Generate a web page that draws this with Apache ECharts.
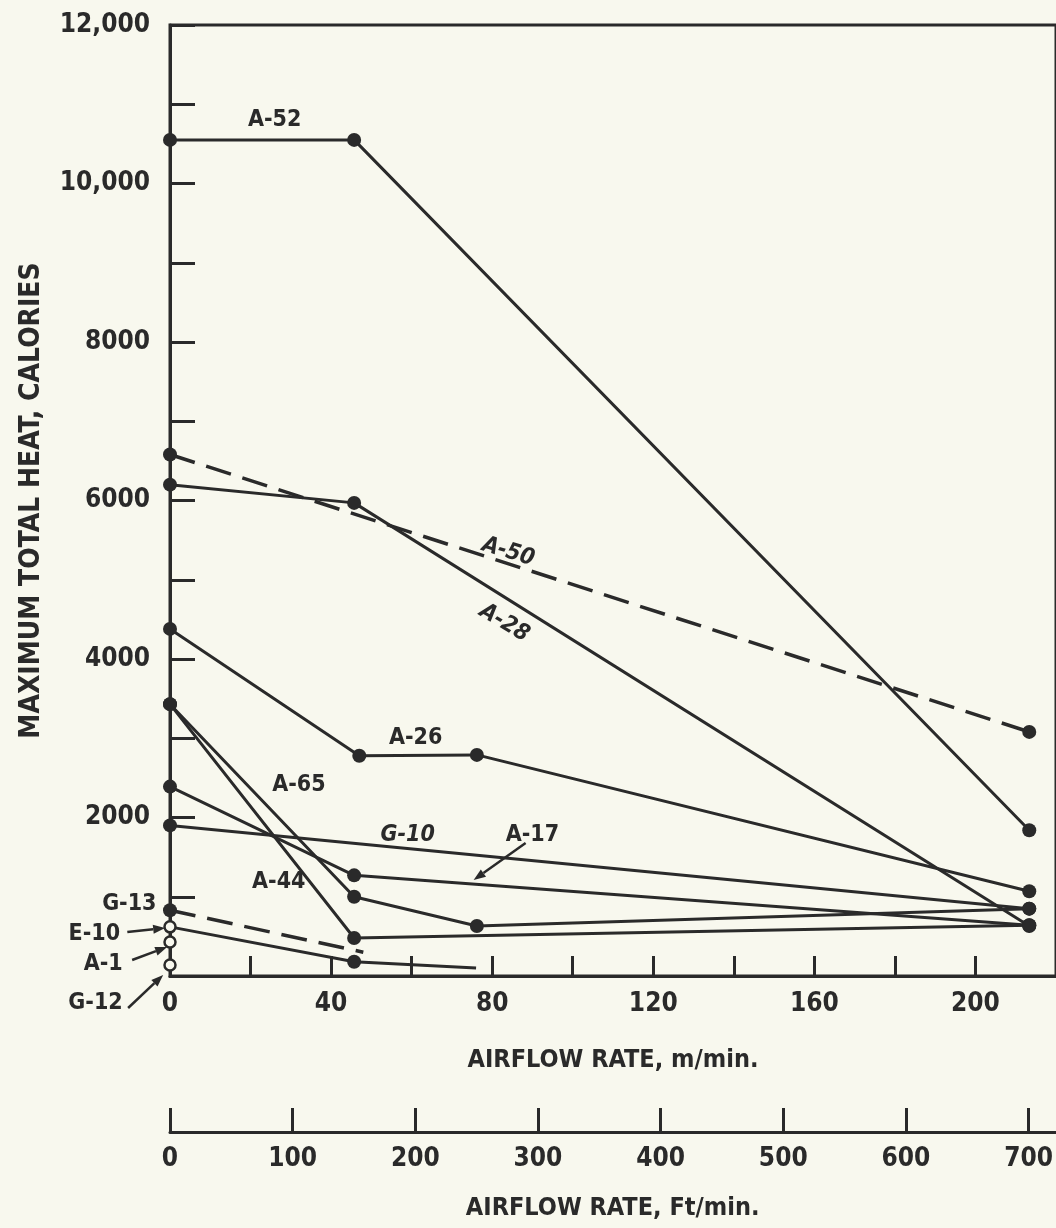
<!DOCTYPE html>
<html>
<head>
<meta charset="utf-8">
<script src="https://cdn.jsdelivr.net/npm/echarts@6/dist/echarts.min.js"></script>
<style>
  html, body { margin: 0; padding: 0; background: #f8f8ee; }
  #chart { width: 1056px; height: 1228px; }
</style>
</head>
<body>
<div id="chart"></div>
<script>
// ---- data (airflow in m/min, heat in calories) ----
const A52_x = [0, 45.72, 213.36];        const A52_y = [10550, 10550, 1840];
const A50_x = [0, 213.36];               const A50_y = [6580, 3080];
const A28_x = [0, 45.72, 213.36];        const A28_y = [6200, 5970, 630];
const A26_x = [0, 47, 76.2, 213.36];     const A26_y = [4380, 2780, 2790, 1070];
const A65_x = [0, 45.72, 76.2, 213.36];  const A65_y = [3430, 1000, 630, 850];
const A44_x = [0, 45.72, 213.36];        const A44_y = [3430, 480, 640];
const A17_x = [0, 45.72, 213.36];        const A17_y = [2390, 1270, 640];
const G10_x = [0, 213.36];               const G10_y = [1900, 850];
const G13_x = [0, 48];                   const G13_y = [830, 300];
const E10_x = [0, 45.72, 76];            const E10_y = [620, 180, 100];
const A1_x = [0];                        const A1_y = [430];
const G12_x = [0];                       const G12_y = [140];

const xTicksM = [0, 40, 80, 120, 160, 200];
const xTicksFt = [0, 100, 200, 300, 400, 500, 600, 700];
const yTicks = [2000, 4000, 6000, 8000, 10000, 12000];

const FT_PER_M = 1 / 0.3048;
const X_MAX = 220;

// ---- styling ----
const INK = '#2a2a2a';
const BG = '#f8f8ee';
const FONT = "'Liberation Sans Narrow','DejaVu Sans Condensed','Liberation Sans',sans-serif";

function pts(xs, ys, opts) {
  opts = opts || {};
  return xs.map((x, i) => {
    const d = { value: [x, ys[i]] };
    if (opts.noSymbol && opts.noSymbol.includes(i)) d.symbol = 'none';
    if (opts.empty && opts.empty.includes(i)) {
      d.symbol = 'circle';
      d.itemStyle = { color: BG, borderColor: INK, borderWidth: 2.5 };
      d.symbolSize = 11;
    }
    return d;
  });
}

function lineSeries(name, data, dashed) {
  return {
    name, type: 'line', xAxisIndex: 0, yAxisIndex: 0, data,
    symbol: 'circle', symbolSize: 14, showAllSymbol: true,
    itemStyle: { color: INK },
    lineStyle: { color: INK, width: dashed ? 3.5 : 3, type: dashed ? [26, 12] : 'solid' },
    emphasis: { disabled: true }, animation: false, z: 3
  };
}

const series = [
  lineSeries('A-52', pts(A52_x, A52_y)),
  lineSeries('A-50', pts(A50_x, A50_y), true),
  lineSeries('A-28', pts(A28_x, A28_y)),
  lineSeries('A-26', pts(A26_x, A26_y)),
  lineSeries('A-65', pts(A65_x, A65_y)),
  lineSeries('A-44', pts(A44_x, A44_y)),
  lineSeries('A-17', pts(A17_x, A17_y)),
  lineSeries('G-10', pts(G10_x, G10_y)),
  lineSeries('G-13', pts(G13_x, G13_y, { noSymbol: [1] }), true),
  lineSeries('E-10', pts(E10_x, E10_y, { empty: [0], noSymbol: [2] })),
  lineSeries('A-1', pts(A1_x, A1_y, { empty: [0] })),
  lineSeries('G-12', pts(G12_x, G12_y, { empty: [0] }))
];

const tickFont = { color: INK, fontFamily: FONT, fontWeight: 'bold', fontSize: 26 };

const option = {
  backgroundColor: BG,
  animation: false,
  grid: [
    { left: 170, top: 25, right: -4, bottom: 252, show: true, borderColor: INK, borderWidth: 3, backgroundColor: 'transparent' },
    { left: 170, top: 1131, right: -4, height: 1 }
  ],
  xAxis: [
    {
      gridIndex: 0, type: 'value', min: 0, max: X_MAX, interval: 20,
      axisLine: { lineStyle: { color: INK, width: 3 } },
      axisTick: { inside: true, length: 20, lineStyle: { color: INK, width: 3 } },
      axisLabel: Object.assign({ margin: 15, showMaxLabel: false,
        formatter: v => xTicksM.includes(v) ? String(v) : '' }, tickFont),
      splitLine: { show: false },
      name: 'AIRFLOW RATE, m/min.', nameLocation: 'middle', nameGap: 72,
      nameTextStyle: { color: INK, fontFamily: FONT, fontWeight: 'bold', fontSize: 25 }
    },
    {
      gridIndex: 1, type: 'value', min: 0, max: X_MAX * FT_PER_M, interval: 100, position: 'bottom',
      axisLine: { lineStyle: { color: INK, width: 3 } },
      axisTick: { inside: true, length: 24, lineStyle: { color: INK, width: 3 } },
      axisLabel: Object.assign({ margin: 14, showMaxLabel: false,
        formatter: v => xTicksFt.includes(v) ? String(v) : '' }, tickFont),
      splitLine: { show: false },
      name: 'AIRFLOW RATE, Ft/min.', nameLocation: 'middle', nameGap: 64,
      nameTextStyle: { color: INK, fontFamily: FONT, fontWeight: 'bold', fontSize: 25 }
    }
  ],
  yAxis: [
    {
      gridIndex: 0, type: 'value', min: 0, max: 12000, interval: 1000,
      axisLine: { lineStyle: { color: INK, width: 3 } },
      axisTick: { inside: true, length: 25, lineStyle: { color: INK, width: 3 } },
      axisLabel: Object.assign({ margin: 20, showMinLabel: false,
        formatter: v => yTicks.includes(v) ? (v >= 10000 ? v.toLocaleString('en-US') : String(v)) : '' }, tickFont),
      splitLine: { show: false },
      name: 'MAXIMUM TOTAL HEAT, CALORIES', nameLocation: 'middle', nameGap: 124, nameRotate: 90,
      nameTextStyle: { color: INK, fontFamily: FONT, fontWeight: 'bold', fontSize: 28 }
    },
    { gridIndex: 1, type: 'value', min: 0, max: 1, show: false }
  ],
  series
};

const chart = echarts.init(document.getElementById('chart'), null, { renderer: 'canvas' });
chart.setOption(option);

// ---- annotations (text in data coordinates) ----
const notes = [
  { t: 'A-52', x: 26, y: 10800 },
  { t: 'A-50', x: 84, y: 5350, rot: 17, italic: true },
  { t: 'A-28', x: 83, y: 4454, rot: 31, italic: true },
  { t: 'A-26', x: 61, y: 3003 },
  { t: 'A-65', x: 32, y: 2410 },
  { t: 'G-10', x: 59, y: 1780, italic: true },
  { t: 'A-17', x: 90, y: 1780 },
  { t: 'A-44', x: 27, y: 1186 },
  { t: 'G-13', x: -10.1, y: 908 },
  { t: 'E-10', x: -18.8, y: 530 },
  { t: 'A-1', x: -16.6, y: 151 },
  { t: 'G-12', x: -18.5, y: -341 }
];
const arrows = [
  { from: [88.3, 1678], to: [75.4, 1211] },
  { from: [-10.6, 555], to: [-1.2, 606] },
  { from: [-9.4, 202], to: [-0.7, 366] },
  { from: [-10.4, -404], to: [-1.7, 13] }
];

const px = p => chart.convertToPixel({ gridIndex: 0 }, p);
const graphics = [];
notes.forEach(n => {
  const p = px([n.x, n.y]);
  graphics.push({
    type: 'text', x: p[0], y: p[1], rotation: -(n.rot || 0) * Math.PI / 180, z: 10,
    style: {
      text: n.t, fill: INK,
      font: (n.italic ? 'italic ' : '') + 'bold 23px ' + FONT,
      textAlign: 'center', textVerticalAlign: 'middle'
    }
  });
});
arrows.forEach(a => {
  const p1 = px(a.from), p2 = px(a.to);
  const ang = Math.atan2(p2[1] - p1[1], p2[0] - p1[0]);
  const L = 12, W = 4.5;
  const bx = p2[0] - L * Math.cos(ang), by = p2[1] - L * Math.sin(ang);
  graphics.push({
    type: 'line', z: 10,
    shape: { x1: p1[0], y1: p1[1], x2: bx, y2: by },
    style: { stroke: INK, lineWidth: 2.5 }
  });
  graphics.push({
    type: 'polygon', z: 10,
    shape: { points: [
      [p2[0], p2[1]],
      [bx + W * Math.sin(ang), by - W * Math.cos(ang)],
      [bx - W * Math.sin(ang), by + W * Math.cos(ang)]
    ] },
    style: { fill: INK }
  });
});
chart.setOption({ graphic: graphics });
</script>
</body>
</html>
